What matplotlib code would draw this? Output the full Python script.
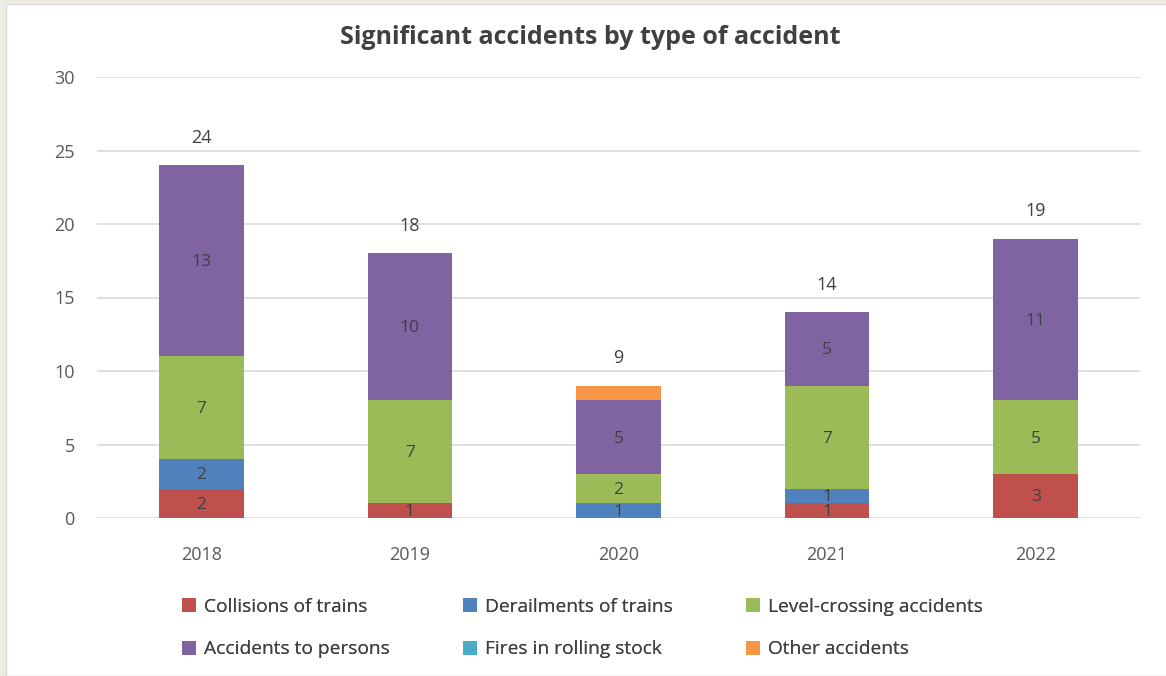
import matplotlib
matplotlib.use("Agg")
import matplotlib.pyplot as plt
from matplotlib.patches import Rectangle
import numpy as np

plt.rcParams['font.family'] = ['Open Sans', 'DejaVu Sans']

years = ['2018', '2019', '2020', '2021', '2022']
series_names = ['Collisions of trains', 'Derailments of trains', 'Level-crossing accidents',
                'Accidents to persons', 'Fires in rolling stock', 'Other accidents']
collisions = [2, 1, 0, 1, 3]
derailments = [2, 0, 1, 1, 0]
level_crossing = [7, 7, 2, 7, 5]
persons = [13, 10, 5, 5, 11]
fires = [0, 0, 0, 0, 0]
other = [0, 0, 1, 0, 0]
colors = ['#C0504D', '#4F81BD', '#9BBB59', '#8064A2', '#4BACC6', '#F79646']
show_labels = [True, True, True, True, False, False]

data = [collisions, derailments, level_crossing, persons, fires, other]

W, H = 1166, 676
fig = plt.figure(figsize=(W / 100, H / 100), dpi=100)
fig.patch.set_facecolor('#EEEBE1')
fig.patches.append(Rectangle((6 / W, 0), 1, 1 - 4 / H, transform=fig.transFigure,
                             facecolor='white', edgecolor='#D9D9D9', linewidth=1, zorder=-5))

ax = fig.add_axes([97 / W, 1 - 518 / H, (1140 - 97) / W, (518 - 77) / H])
ax.set_zorder(2)
ax.set_facecolor('none')
x = np.arange(len(years))
bottom = np.zeros(len(years))
txt = '#404040'
handles = []
for vals, name, col, lab in zip(data, series_names, colors, show_labels):
    v = np.array(vals, dtype=float)
    h = ax.bar(x, v, bottom=bottom, width=0.405, color=col, label=name, zorder=3)
    handles.append(h)
    if lab:
        for xi, (b, val) in enumerate(zip(bottom, v)):
            if val > 0:
                ax.text(xi, b + val / 2 - 0.1, f'{int(val)}', ha='center', va='center',
                        fontsize=12.5, color=txt, zorder=4)
    bottom += v

for xi, tot in enumerate(bottom):
    ax.text(xi, tot + 1.25, f'{int(tot)}', ha='center', va='bottom', fontsize=13, color=txt)

ax.set_xlim(-0.5, 4.5)
ax.set_ylim(0, 30)
ax.set_yticks(range(0, 31, 5))
ax.set_xticks(x)
ax.set_xticklabels(years)
ax.grid(axis='y', color='#D9D9D9', linewidth=1.2, zorder=0)
for s in ax.spines.values():
    s.set_visible(False)
ax.tick_params(axis='both', length=0, labelsize=13, colors='#595959')
ax.tick_params(axis='y', pad=16)
ax.tick_params(axis='x', pad=20)

fig.text(590 / W, 1 - 38 / H, 'Significant accidents by type of accident', ha='center',
         va='center', fontsize=18, fontweight='bold', color='#404040')

# legend: three columns, two rows
columns = [(0, 3, 182), (1, 4, 463), (2, 5, 746)]
for a, b, xpix in columns:
    lg = fig.legend([handles[a], handles[b]], [series_names[a], series_names[b]],
                    loc='center left', bbox_to_anchor=(xpix / W, 1 - 628 / H),
                    frameon=False, fontsize=13.8, handlelength=0.72, handleheight=0.72,
                    handletextpad=0.45, labelspacing=1.3, borderpad=0, borderaxespad=0,
                    labelcolor='#404040')
    fig.add_artist(lg)

fig.savefig('out.png', dpi=100, facecolor=fig.get_facecolor())
